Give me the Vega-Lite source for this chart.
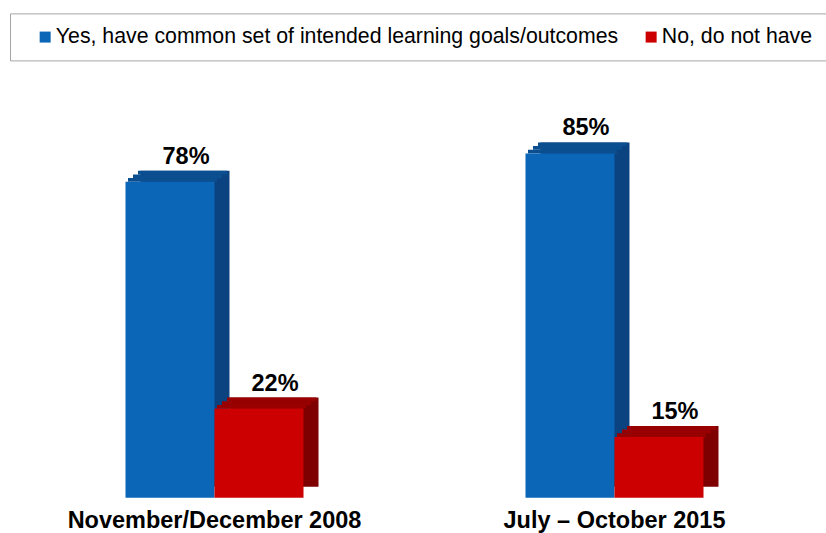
{
  "$schema": "https://vega.github.io/schema/vega-lite/v6.json",
  "autosize": {"type": "pad"},
  "padding": {"left": 9.5, "top": 12.7, "right": 0, "bottom": 0},
  "background": "white",
  "bounds": "flush",
  "config": {
    "view": {"stroke": null},
    "font": "Liberation Sans"
  },
  "data": {
    "values": [
      {"period": "November/December 2008", "response": "Yes, have common set of intended learning goals/outcomes", "pct": 78},
      {"period": "November/December 2008", "response": "No, do not have", "pct": 22},
      {"period": "July – October 2015", "response": "Yes, have common set of intended learning goals/outcomes", "pct": 85},
      {"period": "July – October 2015", "response": "No, do not have", "pct": 15}
    ]
  },
  "transform": [{"calculate": "datum.pct + '%'", "as": "label"}],
  "facet": {
    "column": {
      "field": "period", "type": "nominal", "sort": ["November/December 2008", "July – October 2015"], "title": null,
      "header": {"labelOrient": "bottom", "labelFontSize": 23.5, "labelFontWeight": "bold", "labelColor": "#000000", "labelPadding": 11, "labelFont": "Liberation Sans", "labelLimit": 0}
    }
  },
  "spacing": 222,
  "spec": {
    "width": 178,
    "height": 405,
    "layer": [
      {
        "mark": {"type": "bar", "xOffset": 15, "x2Offset": 15, "yOffset": -11, "y2Offset": -11},
        "encoding": {
          "x": {"field": "response", "type": "nominal", "sort": ["Yes, have common set of intended learning goals/outcomes", "No, do not have"], "scale": {"paddingInner": 0, "paddingOuter": 0}, "axis": null},
          "y": {"field": "pct", "type": "quantitative", "scale": {"domain": [0, 100]}, "axis": null},
          "color": {"condition": {"test": "datum.response === 'No, do not have'", "value": "#7F0000"}, "value": "#0A437F"}
        }
      },
      {
        "mark": {"type": "bar", "xOffset": 12.5, "x2Offset": 12.5, "yOffset": -11, "y2Offset": -7.3},
        "encoding": {
          "x": {"field": "response", "type": "nominal", "sort": ["Yes, have common set of intended learning goals/outcomes", "No, do not have"], "axis": null},
          "y": {"field": "pct", "type": "quantitative", "axis": null},
          "y2": {"field": "pct"},
          "color": {"condition": {"test": "datum.response === 'No, do not have'", "value": "#990000"}, "value": "#0B4F90"}
        }
      },
      {
        "mark": {"type": "bar", "xOffset": 7.5, "x2Offset": 7.5, "yOffset": -7.4, "y2Offset": -3.6},
        "encoding": {
          "x": {"field": "response", "type": "nominal", "sort": ["Yes, have common set of intended learning goals/outcomes", "No, do not have"], "axis": null},
          "y": {"field": "pct", "type": "quantitative", "axis": null},
          "y2": {"field": "pct"},
          "color": {"condition": {"test": "datum.response === 'No, do not have'", "value": "#990000"}, "value": "#0B4F90"}
        }
      },
      {
        "mark": {"type": "bar", "xOffset": 2.5, "x2Offset": 2.5, "yOffset": -3.7, "y2Offset": 0},
        "encoding": {
          "x": {"field": "response", "type": "nominal", "sort": ["Yes, have common set of intended learning goals/outcomes", "No, do not have"], "axis": null},
          "y": {"field": "pct", "type": "quantitative", "axis": null},
          "y2": {"field": "pct"},
          "color": {"condition": {"test": "datum.response === 'No, do not have'", "value": "#990000"}, "value": "#0B4F90"}
        }
      },
      {
        "mark": {"type": "bar"},
        "encoding": {
          "x": {"field": "response", "type": "nominal", "sort": ["Yes, have common set of intended learning goals/outcomes", "No, do not have"], "axis": null},
          "y": {"field": "pct", "type": "quantitative", "axis": null},
          "color": {"field": "response", "type": "nominal", "sort": ["Yes, have common set of intended learning goals/outcomes", "No, do not have"],
                    "scale": {"range": ["#0B66B7", "#CC0000"]},
                    "legend": {"title": null, "orient": "none", "direction": "horizontal", "legendX": -115.5, "legendY": -79.3,
                               "strokeColor": "#A6A6A6", "padding": 13, "symbolOffset": 11.5, "symbolType": "square", "symbolSize": 121, "symbolStrokeWidth": 0,
                               "labelFontSize": 21.3, "labelFont": "Liberation Sans", "labelColor": "#000000", "labelOffset": 0, "labelLimit": 0, "columnPadding": 10}}
        }
      },
      {
        "mark": {"type": "text", "dx": 16, "dy": -18, "baseline": "alphabetic", "align": "center", "fontSize": 23.5, "fontWeight": "bold", "font": "Liberation Sans", "color": "#000000"},
        "encoding": {
          "x": {"field": "response", "type": "nominal", "sort": ["Yes, have common set of intended learning goals/outcomes", "No, do not have"], "axis": null},
          "y": {"field": "pct", "type": "quantitative", "axis": null},
          "text": {"field": "label"}
        }
      }
    ]
  }
}
